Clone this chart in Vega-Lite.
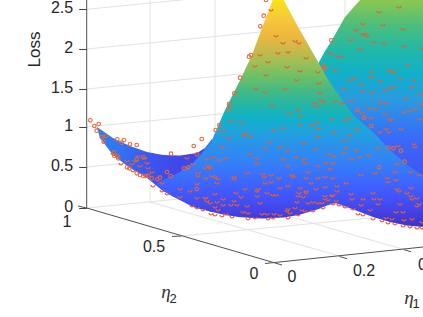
{"$schema":"https://vega.github.io/schema/vega-lite/v6.json","width":423,"height":317,"padding":0,"autosize":{"type":"none"},"background":"white","config":{"view":{"stroke":null}},
"datasets":{
"grid":[{"u":86.7,"v":208,"u2":405,"v2":177},{"u":86.7,"v":167,"u2":405,"v2":136},{"u":86.7,"v":127,"u2":405,"v2":96},{"u":86.7,"v":89,"u2":405,"v2":58},{"u":86.7,"v":49,"u2":405,"v2":18},{"u":86.7,"v":9.3,"u2":405,"v2":-22},{"u":150,"v":0,"u2":150,"v2":202},{"u":215,"v":0,"u2":215,"v2":195},{"u":280,"v":0,"u2":280,"v2":189},{"u":345,"v":0,"u2":345,"v2":182},{"u":181,"v":236,"u2":381,"v2":217},{"u":150,"v":202,"u2":339.5,"v2":256},{"u":215,"v":195,"u2":404,"v2":249.5},{"u":280,"v":189,"u2":468,"v2":243}],
"dark":[{"u":86.7,"v":0,"u2":86.7,"v2":208},{"u":86.7,"v":208,"u2":282,"v2":265},{"u":265,"v":263.5,"u2":423,"v2":247},{"u":78,"v":206,"u2":86.7,"v2":208},{"u":172,"v":236.5,"u2":181,"v2":236},{"u":339.5,"v":256.5,"u2":347,"v2":258.7},{"u":404,"v":249.7,"u2":411,"v2":251.7}],
"back":[{"u":319,"top":62,"bot":180},{"u":325,"top":51,"bot":180},{"u":332,"top":40,"bot":180},{"u":345,"top":17,"bot":180},{"u":360,"top":0,"bot":180},{"u":423,"top":0,"bot":180}],
"flap":[{"u":97,"top":127,"bot":128},{"u":100,"top":129,"bot":138},{"u":113,"top":138,"bot":155},{"u":130,"top":146,"bot":168},{"u":147,"top":152,"bot":178},{"u":163,"top":155,"bot":191},{"u":180,"top":155.5,"bot":200},{"u":197,"top":153,"bot":208},{"u":205,"top":148,"bot":210},{"u":212,"top":139,"bot":212}],
"peak":[{"u":157,"top":183,"bot":185},{"u":170,"top":177,"bot":195},{"u":180,"top":172,"bot":200},{"u":193,"top":163,"bot":207},{"u":202,"top":153,"bot":209},{"u":212,"top":140,"bot":212},{"u":225,"top":110,"bot":215},{"u":238.7,"top":83,"bot":217},{"u":252,"top":55,"bot":218},{"u":262,"top":28,"bot":218.5},{"u":272.7,"top":0,"bot":218},{"u":283.7,"top":0,"bot":217.5},{"u":298.7,"top":28,"bot":215},{"u":318.7,"top":63,"bot":209},{"u":327,"top":78,"bot":205.5},{"u":335,"top":90,"bot":203},{"u":355,"top":117,"bot":210},{"u":373,"top":132,"bot":217},{"u":390,"top":150,"bot":222},{"u":407,"top":165,"bot":225.5},{"u":423,"top":175,"bot":227}],
"circles":[{"u":90.3,"v":120.3},{"u":94.3,"v":126},{"u":98.7,"v":124},{"u":96.7,"v":130.7},{"u":101.7,"v":137},{"u":106,"v":136},{"u":103.7,"v":141.7},{"u":117.3,"v":139.3},{"u":124,"v":140},{"u":121.7,"v":142.7},{"u":130,"v":144.3},{"u":136.7,"v":145},{"u":171,"v":153.7},{"u":193.7,"v":146},{"u":201.7,"v":139},{"u":197,"v":154.3},{"u":263.7,"v":15.7},{"u":260.3,"v":26.3},{"u":266,"v":0},{"u":251,"v":55},{"u":249,"v":56.7},{"u":240,"v":77.7},{"u":234.3,"v":93.3},{"u":229,"v":104},{"u":228.7,"v":109},{"u":219.3,"v":125},{"u":215.7,"v":130},{"u":331.3,"v":40.3},{"u":323.7,"v":66.7},{"u":325,"v":68.3},{"u":357.3,"v":110},{"u":364.3,"v":117.7},{"u":371,"v":126},{"u":388.5,"v":147.5},{"u":393.5,"v":148.3},{"u":401,"v":150.7},{"u":404.7,"v":161.7},{"u":379,"v":167.3},{"u":114,"v":152.3},{"u":114.3,"v":155.7},{"u":117.3,"v":156},{"u":118.3,"v":158.3},{"u":127,"v":167.3},{"u":129.3,"v":168.3},{"u":136.7,"v":173.3},{"u":140,"v":175},{"u":143.3,"v":176},{"u":145.7,"v":176},{"u":148.3,"v":175.7},{"u":151.7,"v":178.3},{"u":157.3,"v":179.3},{"u":160,"v":177.7},{"u":167,"v":172},{"u":170.7,"v":176},{"u":184,"v":168.3},{"u":188.3,"v":167.3},{"u":196.7,"v":189},{"u":136.7,"v":159.3},{"u":143.3,"v":157.3}],
"arcs":[{"u":271,"v":9},{"u":276,"v":35},{"u":283,"v":42},{"u":295,"v":40},{"u":299,"v":42},{"u":260,"v":54},{"u":278,"v":52},{"u":288,"v":51},{"u":306,"v":57},{"u":268,"v":61},{"u":255,"v":65},{"u":287,"v":66},{"u":300,"v":70},{"u":266,"v":74},{"u":318,"v":71},{"u":297,"v":79},{"u":319,"v":82},{"u":256,"v":88},{"u":265,"v":91},{"u":285,"v":88},{"u":320,"v":92},{"u":314,"v":102},{"u":317,"v":105},{"u":321,"v":99},{"u":324,"v":101},{"u":272,"v":104},{"u":298,"v":109},{"u":289,"v":112},{"u":300,"v":115},{"u":231,"v":120},{"u":241,"v":121},{"u":317,"v":121},{"u":332,"v":118},{"u":345,"v":119},{"u":349,"v":117},{"u":300,"v":124},{"u":312,"v":124},{"u":283,"v":127},{"u":274,"v":129},{"u":318,"v":128},{"u":334,"v":131},{"u":245,"v":132},{"u":244,"v":134},{"u":250,"v":135},{"u":223,"v":130},{"u":229,"v":137},{"u":269,"v":141},{"u":318,"v":136},{"u":303,"v":142},{"u":280,"v":146},{"u":287,"v":149},{"u":265,"v":147},{"u":222,"v":146},{"u":345,"v":139},{"u":350,"v":134},{"u":316,"v":148},{"u":346,"v":147},{"u":356,"v":149},{"u":357,"v":128},{"u":378,"v":147},{"u":368,"v":154},{"u":329,"v":153},{"u":334,"v":155},{"u":344,"v":152},{"u":359,"v":156},{"u":351,"v":158},{"u":296,"v":156},{"u":304,"v":158},{"u":283,"v":158},{"u":257,"v":157},{"u":250,"v":153},{"u":226,"v":157},{"u":219,"v":159},{"u":213,"v":156},
{"u":399,"v":6},{"u":379,"v":11},{"u":363,"v":23},{"u":383,"v":24},{"u":403,"v":28},{"u":356,"v":29},{"u":363,"v":33},{"u":365,"v":33},{"u":367,"v":35},{"u":351,"v":39},{"u":374,"v":41},{"u":384,"v":42},{"u":422,"v":47},{"u":404,"v":45},{"u":360,"v":48},{"u":330,"v":52},{"u":337,"v":55},{"u":341,"v":56},{"u":408,"v":64},{"u":335,"v":69},{"u":389,"v":69},{"u":391,"v":70},{"u":394,"v":71},{"u":372,"v":71},{"u":354,"v":77},{"u":349,"v":79},{"u":371,"v":76},{"u":400,"v":77},{"u":414,"v":79},{"u":380,"v":80},{"u":361,"v":83},{"u":344,"v":88},{"u":394,"v":86},{"u":389,"v":87},{"u":385,"v":89},{"u":412,"v":86},{"u":363,"v":90},{"u":372,"v":91},{"u":420,"v":93},{"u":406,"v":97},{"u":351,"v":99},{"u":335,"v":100},{"u":342,"v":102},{"u":380,"v":101},{"u":386,"v":102},{"u":421,"v":103},{"u":369,"v":107},{"u":376,"v":108},{"u":415,"v":108},{"u":409,"v":110},{"u":404,"v":111},{"u":385,"v":113},{"u":362,"v":112},{"u":371,"v":117},{"u":390,"v":118},{"u":391,"v":119},{"u":420,"v":118},{"u":386,"v":128},{"u":389,"v":131},{"u":401,"v":128},{"u":380,"v":131},{"u":414,"v":143},{"u":415,"v":146},{"u":398,"v":145},
{"u":257,"v":162},{"u":208,"v":165},{"u":209,"v":166},{"u":247,"v":172},{"u":263,"v":173},{"u":264,"v":176},{"u":271,"v":174},{"u":212,"v":175},{"u":215,"v":176},{"u":218,"v":178},{"u":206,"v":177},{"u":234,"v":176},{"u":234,"v":178},{"u":279,"v":177},{"u":292,"v":174},{"u":293,"v":176},{"u":308,"v":171},{"u":306,"v":177},{"u":318,"v":177},{"u":325,"v":176},{"u":330,"v":168},{"u":326,"v":162},{"u":318,"v":165},{"u":333,"v":162},{"u":333,"v":177},{"u":305,"v":162},{"u":288,"v":165},{"u":265,"v":182},{"u":271,"v":181},{"u":311,"v":182},{"u":217,"v":182},{"u":288,"v":185},{"u":280,"v":187},{"u":245,"v":188},{"u":258,"v":188},{"u":257,"v":190},{"u":267,"v":192},{"u":236,"v":192},{"u":215,"v":193},{"u":300,"v":187},{"u":306,"v":190},{"u":306,"v":192},{"u":299,"v":192},{"u":316,"v":188},{"u":325,"v":186},{"u":257,"v":195},{"u":241,"v":196},{"u":273,"v":194},{"u":276,"v":194},{"u":298,"v":195},{"u":303,"v":196},{"u":325,"v":195},{"u":332,"v":195},{"u":333,"v":194},{"u":325,"v":198},{"u":223,"v":198},{"u":206,"v":197},{"u":210,"v":202},{"u":217,"v":201},{"u":234,"v":200},{"u":260,"v":202},{"u":297,"v":201},{"u":313,"v":201},{"u":308,"v":202},{"u":318,"v":202},{"u":322,"v":202},{"u":328,"v":199},{"u":223,"v":204},{"u":231,"v":204},{"u":237,"v":204},{"u":215,"v":206},{"u":247,"v":205},{"u":218,"v":209},{"u":243,"v":211},{"u":248,"v":212},{"u":288,"v":208},{"u":295,"v":207},{"u":287,"v":210},{"u":302,"v":209},{"u":305,"v":210},{"u":226,"v":213},{"u":262,"v":213},{"u":267,"v":213},{"u":274,"v":213},{"u":280,"v":214},{"u":290,"v":212},{"u":211,"v":213},{"u":215,"v":214},{"u":222,"v":215},{"u":232,"v":216},{"u":248,"v":218},{"u":255,"v":217},{"u":268,"v":218},{"u":273,"v":217},{"u":288,"v":217},{"u":298,"v":214},{"u":313,"v":210},{"u":323,"v":207},{"u":333,"v":203},
{"u":397,"v":163},{"u":375,"v":172},{"u":395,"v":171},{"u":361,"v":174},{"u":411,"v":171},{"u":419,"v":174},{"u":387,"v":177},{"u":388,"v":181},{"u":396,"v":179},{"u":346,"v":182},{"u":337,"v":185},{"u":397,"v":188},{"u":399,"v":190},{"u":373,"v":192},{"u":351,"v":193},{"u":407,"v":192},{"u":411,"v":187},{"u":411,"v":195},{"u":417,"v":197},{"u":412,"v":198},{"u":400,"v":203},{"u":419,"v":203},{"u":417,"v":205},{"u":374,"v":198},{"u":380,"v":198},{"u":363,"v":198},{"u":352,"v":198},{"u":378,"v":203},{"u":361,"v":204},{"u":370,"v":209},{"u":396,"v":211},{"u":403,"v":211},{"u":386,"v":217},{"u":392,"v":218},{"u":404,"v":219},{"u":412,"v":218},{"u":422,"v":221},{"u":336,"v":200},{"u":337,"v":190},{"u":339,"v":204},{"u":345,"v":206},{"u":353,"v":208},{"u":358,"v":213},{"u":363,"v":214},{"u":373,"v":218},{"u":382,"v":220},{"u":388,"v":222},{"u":395,"v":223},{"u":403,"v":225},{"u":410,"v":226},{"u":417,"v":227},{"u":422,"v":227},
{"u":127,"v":160},{"u":132,"v":163},{"u":135,"v":160},{"u":138,"v":155},{"u":145,"v":157},{"u":147,"v":162},{"u":148,"v":167},{"u":152,"v":171},{"u":140,"v":165},{"u":133,"v":170},{"u":162,"v":182},{"u":180,"v":188},{"u":190,"v":190},{"u":197,"v":183},{"u":180,"v":196},{"u":205,"v":197},{"u":207,"v":200},{"u":197,"v":197},{"u":198,"v":175},{"u":193,"v":163},{"u":205,"v":167},{"u":210,"v":167},{"u":198,"v":172},{"u":207,"v":158},{"u":187,"v":157},{"u":192,"v":205},{"u":197,"v":207},{"u":203,"v":209},{"u":153,"v":185},{"u":162,"v":190},{"u":167,"v":193},{"u":113,"v":153},{"u":121,"v":163}],
"ticklabels":[{"t":"1","u":67,"v":222},{"t":"0.5","u":154,"v":247},{"t":"0","u":254,"v":274},{"t":"0","u":292,"v":277},{"t":"0.2","u":364,"v":271},{"t":"0.4","u":429,"v":265}],
"greek":[{"t":"η","u":166,"v":292},{"t":"η","u":409,"v":298}],
"subs":[{"t":"2","u":173,"v":299},{"t":"1","u":416,"v":304}]
},
"layer":[
{"data":{"name":"grid"},"mark":{"type":"rule","color":"#e2e2e2","strokeWidth":1},"encoding":{"x":{"field":"u","type":"quantitative","scale":{"domain":[0,423],"nice":false,"zero":false},"axis":null},"y":{"field":"v","type":"quantitative","scale":{"domain":[317,0],"nice":false,"zero":false},"axis":{"orient":"left","offset":-86.7,"domain":false,"grid":false,"values":[208,167,127,89,49,9.3],"labelExpr":"datum.value==208?'0':datum.value==167?'0.5':datum.value==127?'1':datum.value==89?'1.5':datum.value==49?'2':'2.5'","tickSize":8,"tickColor":"#444444","labelFont":"Liberation Sans","labelFontSize":16,"labelColor":"#262626","labelPadding":6,"labelOffset":-2,"labelOverlap":false,"labelFlush":false,"title":"Loss","titleFont":"Liberation Sans","titleFontSize":17,"titleFontWeight":"normal","titleColor":"#262626","titleAngle":-90,"titleX":-52,"titleY":49,"titleAlign":"center","titleBaseline":"middle"}},"x2":{"field":"u2"},"y2":{"field":"v2"}}},
{"data":{"name":"dark"},"mark":{"type":"rule","color":"#505050","strokeWidth":1},"encoding":{"x":{"field":"u","type":"quantitative"},"y":{"field":"v","type":"quantitative"},"x2":{"field":"u2"},"y2":{"field":"v2"}}},
{"data":{"name":"back"},"mark":{"type":"area","color":{"gradient":"linear","x1":0,"y1":0,"x2":0,"y2":1,"stops":[{"offset":0,"color":"#8cc850"},{"offset":0.14,"color":"#4dbd7c"},{"offset":0.28,"color":"#20b8a8"},{"offset":0.42,"color":"#10b0cc"},{"offset":0.56,"color":"#2a9ae2"},{"offset":0.67,"color":"#3180f0"},{"offset":0.78,"color":"#3a68fa"},{"offset":1,"color":"#4252f4"}]}},"encoding":{"x":{"field":"u","type":"quantitative"},"y":{"field":"top","type":"quantitative"},"y2":{"field":"bot"}}},
{"data":{"name":"flap"},"mark":{"type":"area","color":{"gradient":"linear","x1":0,"y1":0,"x2":1,"y2":0.3,"stops":[{"offset":0,"color":"#2c84f0"},{"offset":0.25,"color":"#3074f5"},{"offset":0.5,"color":"#3a58f2"},{"offset":0.75,"color":"#4048ea"},{"offset":1,"color":"#4245ec"}]}},"encoding":{"x":{"field":"u","type":"quantitative"},"y":{"field":"top","type":"quantitative"},"y2":{"field":"bot"}}},
{"data":{"name":"peak"},"mark":{"type":"area","color":{"gradient":"linear","x1":0,"y1":0,"x2":0,"y2":1,"stops":[{"offset":0,"color":"#f8e31c"},{"offset":0.08,"color":"#f7c93a"},{"offset":0.154,"color":"#efb83e"},{"offset":0.22,"color":"#c9b94a"},{"offset":0.273,"color":"#a0be56"},{"offset":0.33,"color":"#72c064"},{"offset":0.396,"color":"#46ba82"},{"offset":0.463,"color":"#24b6a6"},{"offset":0.52,"color":"#10b2c8"},{"offset":0.573,"color":"#1ea6dc"},{"offset":0.639,"color":"#2a92ea"},{"offset":0.705,"color":"#3284f6"},{"offset":0.771,"color":"#3a70fc"},{"offset":0.824,"color":"#3f60ff"},{"offset":0.881,"color":"#4250f8"},{"offset":0.938,"color":"#4440e4"},{"offset":1,"color":"#4230c4"}]}},"encoding":{"x":{"field":"u","type":"quantitative"},"y":{"field":"top","type":"quantitative"},"y2":{"field":"bot"}}},
{"data":{"name":"arcs"},"mark":{"type":"point","shape":"M-1,0A1,1 0 0 0 1,0","filled":false,"size":15,"color":"#e8602a","strokeWidth":1.2,"opacity":1},"encoding":{"x":{"field":"u","type":"quantitative"},"y":{"field":"v","type":"quantitative"}}},
{"data":{"name":"circles"},"mark":{"type":"point","shape":"circle","filled":false,"size":13,"color":"#e8683a","strokeWidth":1.1,"opacity":1},"encoding":{"x":{"field":"u","type":"quantitative"},"y":{"field":"v","type":"quantitative"}}},
{"data":{"name":"ticklabels"},"mark":{"type":"text","font":"Liberation Sans","fontSize":16,"color":"#262626","align":"center","baseline":"middle"},"encoding":{"x":{"field":"u","type":"quantitative"},"y":{"field":"v","type":"quantitative"},"text":{"field":"t"}}},
{"data":{"name":"greek"},"mark":{"type":"text","font":"Liberation Serif","fontStyle":"italic","fontSize":19,"color":"#333333","align":"center","baseline":"middle"},"encoding":{"x":{"field":"u","type":"quantitative"},"y":{"field":"v","type":"quantitative"},"text":{"field":"t"}}},
{"data":{"name":"subs"},"mark":{"type":"text","font":"Liberation Sans","fontSize":13,"color":"#262626","align":"center","baseline":"middle"},"encoding":{"x":{"field":"u","type":"quantitative"},"y":{"field":"v","type":"quantitative"},"text":{"field":"t"}}}
]}
